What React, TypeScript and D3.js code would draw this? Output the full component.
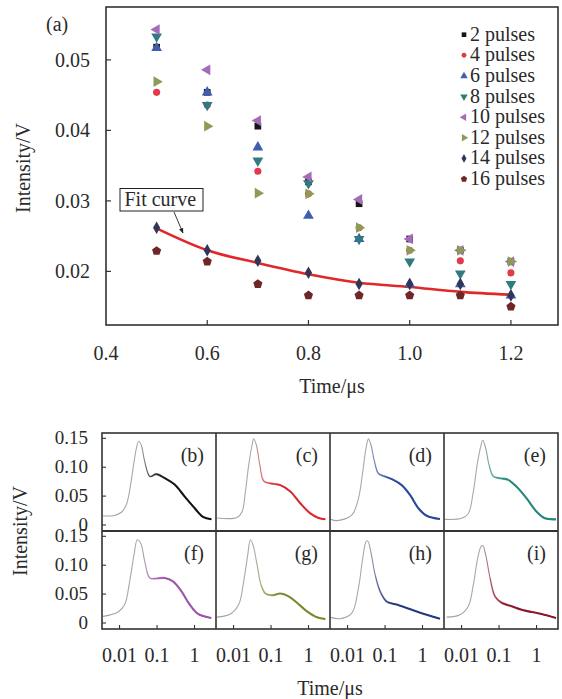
import React from 'react';
import * as d3 from 'd3';

// ---------- Panel (a) data ----------
const times = [0.5, 0.6, 0.7, 0.8, 0.9, 1.0, 1.1, 1.2];
const seriesNames = ['2 pulses', '4 pulses', '6 pulses', '8 pulses', '10 pulses', '12 pulses', '14 pulses', '16 pulses'];
const p2 = [0.0518, 0.0454, 0.0406, 0.0327, 0.0296, 0.0246, 0.0230, 0.0214];
const p4 = [0.0454, 0.0436, 0.0342, 0.0310, 0.0262, 0.0230, 0.0215, 0.0198];
const p6 = [0.0517, 0.0454, 0.0376, 0.0279, 0.0246, 0.0182, 0.0182, 0.0166];
const p8 = [0.0533, 0.0436, 0.0357, 0.0325, 0.0246, 0.0214, 0.0197, 0.0182];
const p10 = [0.0543, 0.0486, 0.0414, 0.0334, 0.0302, 0.0246, 0.0230, 0.0214];
const p12 = [0.0469, 0.0406, 0.0311, 0.0310, 0.0262, 0.0230, 0.0230, 0.0214];
const p14 = [0.0262, 0.0230, 0.0215, 0.0198, 0.0182, 0.0182, 0.0182, 0.0166];
const p16 = [0.0229, 0.0214, 0.0182, 0.0166, 0.0166, 0.0166, 0.0166, 0.0150];
const seriesValues = [p2, p4, p6, p8, p10, p12, p14, p16];
const seriesColors = ['#161616', '#e23a4c', '#3f5fae', '#2f7b80', '#a46cb8', '#8c9b56', '#2f3658', '#6f2626'];
const fitValues = [0.0261, 0.0230, 0.0212, 0.0196, 0.0184, 0.0178, 0.0171, 0.0167];
const xTicksA = [0.4, 0.6, 0.8, 1.0, 1.2];
const xTickLabelsA = ['0.4', '0.6', '0.8', '1.0', '1.2'];
const yTicksA = [0.02, 0.03, 0.04, 0.05];
const yTickLabelsA = ['0.02', '0.03', '0.04', '0.05'];

// ---------- Panels (b)-(i) data (time in μs, intensity in V) ----------
const panelLabels = ['(b)', '(c)', '(d)', '(e)', '(f)', '(g)', '(h)', '(i)'];
const panelColors = ['#111111', '#d8262c', '#27469a', '#23857a', '#9a54a6', '#77882c', '#25357c', '#8a1426'];
const tB = [0.00363, 0.00676, 0.01122, 0.01514, 0.01862, 0.02291, 0.02818, 0.03236, 0.038, 0.04677, 0.06457, 0.0955, 0.1603, 0.2951, 0.5495, 1.0116, 1.683, 2.818];
const vB = [0.016, 0.016, 0.022, 0.035, 0.060, 0.098, 0.133, 0.145, 0.138, 0.110, 0.084, 0.088, 0.081, 0.070, 0.049, 0.029, 0.014, 0.010];
const tC = [0.00363, 0.01239, 0.01687, 0.0207, 0.0254, 0.0311, 0.0345, 0.0407, 0.0501, 0.0638, 0.0955, 0.177, 0.327, 0.604, 1.117, 1.862, 2.805];
const vC = [0.012, 0.013, 0.023, 0.058, 0.104, 0.138, 0.149, 0.138, 0.104, 0.076, 0.072, 0.069, 0.058, 0.0375, 0.020, 0.012, 0.0098];
const tD = [0.00356, 0.00513, 0.01294, 0.0195, 0.0254, 0.0311, 0.0361, 0.0423, 0.0521, 0.0667, 0.100, 0.1675, 0.2786, 0.4634, 0.776, 1.291, 2.924];
const vD = [0.010, 0.0075, 0.017, 0.046, 0.092, 0.133, 0.149, 0.138, 0.110, 0.089, 0.084, 0.078, 0.069, 0.052, 0.029, 0.016, 0.0104];
const tE = [0.00363, 0.01005, 0.01517, 0.0206, 0.0269, 0.0331, 0.0366, 0.0440, 0.0541, 0.0705, 0.1062, 0.177, 0.295, 0.5445, 1.005, 1.683, 3.311];
const vE = [0.0098, 0.0116, 0.020, 0.058, 0.110, 0.138, 0.147, 0.133, 0.104, 0.084, 0.081, 0.078, 0.066, 0.046, 0.023, 0.0116, 0.0098];
const tF = [0.00363, 0.00912, 0.01374, 0.01862, 0.0243, 0.0298, 0.0367, 0.0468, 0.0638, 0.0955, 0.1603, 0.2667, 0.4446, 0.741, 1.239, 2.805];
const vF = [0.0114, 0.019, 0.032, 0.072, 0.118, 0.144, 0.138, 0.107, 0.078, 0.077, 0.078, 0.072, 0.055, 0.032, 0.0156, 0.0087];
const tG = [0.00363, 0.0082, 0.01374, 0.01862, 0.0239, 0.0281, 0.0331, 0.0423, 0.0541, 0.0705, 0.1062, 0.177, 0.295, 0.493, 0.912, 1.683, 2.805];
const vG = [0.0102, 0.0156, 0.032, 0.072, 0.118, 0.144, 0.135, 0.101, 0.066, 0.051, 0.048, 0.051, 0.046, 0.035, 0.020, 0.0098, 0.0069];
const tH = [0.00356, 0.00631, 0.01294, 0.0195, 0.0254, 0.0311, 0.0345, 0.0415, 0.0541, 0.0735, 0.1109, 0.2051, 0.3784, 0.6998, 1.291, 2.924];
const vH = [0.0097, 0.0074, 0.017, 0.0605, 0.112, 0.141, 0.142, 0.124, 0.084, 0.055, 0.037, 0.032, 0.026, 0.020, 0.0144, 0.0074];
const tI = [0.0040, 0.00912, 0.01517, 0.0206, 0.0269, 0.0331, 0.0366, 0.0440, 0.0575, 0.0782, 0.1172, 0.2168, 0.3999, 0.7396, 1.368, 3.311];
const vI = [0.0102, 0.0144, 0.029, 0.066, 0.112, 0.1325, 0.134, 0.118, 0.078, 0.046, 0.035, 0.029, 0.023, 0.019, 0.0156, 0.0087];
const panelTimes = [tB, tC, tD, tE, tF, tG, tH, tI];
const panelValues = [vB, vC, vD, vE, vF, vG, vH, vI];
const xTicksS = [0.01, 0.1, 1];
const xTickLabelsS = ['0.01', '0.1', '1'];
const yTicksS = [0, 0.05, 0.10, 0.15];
const yTickLabelsS = ['0', '0.05', '0.10', '0.15'];

const FONT = '"Liberation Serif", "Times New Roman", serif';
const AX = '#333333';
const TXT = '#2a2a2a';

const symbolPentagon = {
  draw(ctx: any, size: number) {
    const r = Math.sqrt(size / (2.5 * Math.sin((2 * Math.PI) / 5)));
    for (let i = 0; i < 5; i++) {
      const a = -Math.PI / 2 + (i * 2 * Math.PI) / 5;
      const x = r * Math.cos(a);
      const y = r * Math.sin(a);
      if (i === 0) ctx.moveTo(x, y);
      else ctx.lineTo(x, y);
    }
    ctx.closePath();
  },
};

const symbolSpecs: { type: any; rot: number; k: number }[] = [
  { type: d3.symbolSquare, rot: 0, k: 0.9 },
  { type: d3.symbolCircle, rot: 0, k: 0.8 },
  { type: d3.symbolTriangle, rot: 0, k: 1 },
  { type: d3.symbolTriangle, rot: 180, k: 1 },
  { type: d3.symbolTriangle, rot: -90, k: 1 },
  { type: d3.symbolTriangle, rot: 90, k: 1 },
  { type: d3.symbolDiamond, rot: 0, k: 0.9 },
  { type: symbolPentagon, rot: 0, k: 1.1 },
];

function sym(i: number, size: number) {
  const s = symbolSpecs[i];
  return d3.symbol().type(s.type).size(size * s.k)() as string;
}

export default function App() {
  // ----- panel (a) scales -----
  const aL = 106, aR = 558, aT = 7, aB = 325;
  const xA = d3.scaleLinear().domain([0.4, 1.293]).range([aL, aR]);
  const yA = d3.scaleLinear().domain([0.0124, 0.0575]).range([aB, aT]);
  const fitLine = d3
    .line<number>()
    .x((_, i) => xA(times[i]))
    .y((d) => yA(d))
    .curve(d3.curveMonotoneX);

  // ----- small panels -----
  const sL = 102, sW = 114, rowTop = [433, 531], sH = 98;
  const xS = d3.scaleLog().domain([0.0034, 3.74]).range([0, sW]);
  const yS = d3.scaleLinear().domain([-0.0104, 0.1592]).range([sH, 0]);
  const curve = d3
    .line<[number, number]>()
    .x((d) => xS(d[0]))
    .y((d) => yS(d[1]))
    .curve(d3.curveCatmullRom.alpha(0.5));

  const legendBase = [40.7, 61.3, 82, 102.6, 123.2, 143.8, 164.4, 185];

  return (
    <svg
      width={562}
      height={699}
      style={{ position: 'absolute', left: 0, top: 0, background: '#fff' }}
      fontFamily={FONT}
    >
      <defs>
        <marker id="arr" viewBox="0 0 10 10" refX="9" refY="5" markerWidth="6" markerHeight="6" orient="auto">
          <path d="M0,1 L10,5 L0,9 z" fill="#222" />
        </marker>
        {panelColors.map((c, i) => (
          <React.Fragment key={i}>
            <linearGradient id={`g${i}`} gradientUnits="userSpaceOnUse" x1={0} x2={sW} y1={0} y2={0}>
              <stop offset="0" stopColor="#a0a0a0" />
              <stop offset="0.34" stopColor="#ababab" />
              <stop offset="0.42" stopColor={c} stopOpacity={0.7} />
              <stop offset="0.6" stopColor={c} />
              <stop offset="1" stopColor={c} />
            </linearGradient>
            <linearGradient id={`h${i}`} gradientUnits="userSpaceOnUse" x1={0} x2={sW} y1={0} y2={0}>
              <stop offset="0.38" stopColor={c} stopOpacity={0} />
              <stop offset="0.55" stopColor={c} stopOpacity={0.9} />
              <stop offset="1" stopColor={c} stopOpacity={1} />
            </linearGradient>
          </React.Fragment>
        ))}
      </defs>

      {/* ===== Panel (a) ===== */}
      <rect x={aL} y={aT} width={aR - aL} height={aB - aT} fill="none" stroke={AX} strokeWidth={1.6} />
      {yTicksA.map((t, i) => (
        <g key={'ya' + i}>
          <line x1={aL} x2={aL + 5} y1={yA(t)} y2={yA(t)} stroke={AX} strokeWidth={1.2} />
          <text x={90} y={yA(t) + 7} fontSize={20} textAnchor="end" fill={TXT}>
            {yTickLabelsA[i]}
          </text>
        </g>
      ))}
      {xTicksA.map((t, i) => (
        <g key={'xa' + i}>
          {i > 0 && <line x1={xA(t)} x2={xA(t)} y1={aB} y2={aB - 5} stroke={AX} strokeWidth={1.2} />}
          <text x={xA(t)} y={360} fontSize={20} textAnchor="middle" fill={TXT}>
            {xTickLabelsA[i]}
          </text>
        </g>
      ))}
      <text x={332} y={393} fontSize={20} textAnchor="middle" fill={TXT}>
        Time/μs
      </text>
      <text transform="translate(30,168) rotate(-90)" fontSize={20} textAnchor="middle" fill={TXT}>
        Intensity/V
      </text>
      <text x={46} y={31} fontSize={20} fill={TXT}>
        (a)
      </text>

      {/* fit curve */}
      <path d={fitLine(fitValues) as string} fill="none" stroke="#e0282a" strokeWidth={2.6} />

      {/* data markers */}
      {seriesValues.map((vals, si) =>
        vals.map((v, j) => (
          <path
            key={`m${si}-${j}`}
            d={sym(si, 50)}
            transform={`translate(${xA(times[j])},${yA(v)}) rotate(${symbolSpecs[si].rot})`}
            fill={seriesColors[si]}
          />
        ))
      )}

      {/* legend */}
      {seriesNames.map((n, i) => (
        <g key={'lg' + i}>
          <path
            d={sym(i, 24)}
            transform={`translate(464,${legendBase[i] - 6}) rotate(${symbolSpecs[i].rot})`}
            fill={seriesColors[i]}
          />
          <text x={470} y={legendBase[i]} fontSize={20} fill={TXT}>
            {n}
          </text>
        </g>
      ))}

      {/* fit label */}
      <rect x={120} y={188.5} width={83} height={22.5} fill="#fff" stroke="#222" strokeWidth={1} />
      <text x={124.5} y={206} fontSize={20} fill={TXT}>
        Fit curve
      </text>
      <line x1={174} y1={212} x2={183} y2={233} stroke="#222" strokeWidth={0.9} markerEnd="url(#arr)" />

      {/* ===== Panels (b)-(i) ===== */}
      {panelLabels.map((lab, i) => {
        const col = i % 4;
        const row = Math.floor(i / 4);
        const x0 = sL + col * sW;
        const y0 = rowTop[row];
        const pts: [number, number][] = panelTimes[i].map((t, k) => [t, panelValues[i][k]]);
        const late = pts.filter((p) => p[0] >= 0.045);
        return (
          <g key={'p' + i} transform={`translate(${x0},${y0})`}>
            <path d={curve(pts) as string} fill="none" stroke={`url(#g${i})`} strokeWidth={1.1} />
            <path d={curve(late) as string} fill="none" stroke={`url(#h${i})`} strokeWidth={2.1} />
            <text x={sW - 12} y={29} fontSize={20} textAnchor="end" fill={TXT}>
              {lab}
            </text>
            {row === 1 &&
              xTicksS.map((t, k) => (
                <line key={'xt' + k} x1={xS(t)} x2={xS(t)} y1={sH} y2={sH - 4} stroke={AX} strokeWidth={1.1} />
              ))}
            {col === 0 &&
              yTicksS.map((t, k) => (
                <line key={'yt' + k} x1={0} x2={4} y1={yS(t)} y2={yS(t)} stroke={AX} strokeWidth={1.1} />
              ))}
          </g>
        );
      })}
      {/* frames */}
      <rect x={sL} y={rowTop[0]} width={sW * 4} height={sH * 2} fill="none" stroke={AX} strokeWidth={1.6} />
      {[1, 2, 3].map((c) => (
        <line key={'vc' + c} x1={sL + c * sW} x2={sL + c * sW} y1={rowTop[0]} y2={rowTop[0] + 2 * sH} stroke={AX} strokeWidth={1.6} />
      ))}
      <line x1={sL} x2={sL + 4 * sW} y1={rowTop[1]} y2={rowTop[1]} stroke={AX} strokeWidth={2} />

      {/* small panel y tick labels */}
      {rowTop.map((rt, r) =>
        yTicksS.map((t, k) => (
          <text key={`yl${r}-${k}`} x={88} y={rt + yS(t) + 6} fontSize={19} textAnchor="end" fill={TXT}>
            {yTickLabelsS[k]}
          </text>
        ))
      )}
      {/* small panel x tick labels */}
      {[0, 1, 2, 3].map((c) =>
        xTicksS.map((t, k) => (
          <text key={`xl${c}-${k}`} x={sL + c * sW + xS(t)} y={662} fontSize={20} textAnchor="middle" fill={TXT}>
            {xTickLabelsS[k]}
          </text>
        ))
      )}
      <text x={330} y={695} fontSize={20} textAnchor="middle" fill={TXT}>
        Time/μs
      </text>
      <text transform="translate(27,531) rotate(-90)" fontSize={20} textAnchor="middle" fill={TXT}>
        Intensity/V
      </text>
    </svg>
  );
}
